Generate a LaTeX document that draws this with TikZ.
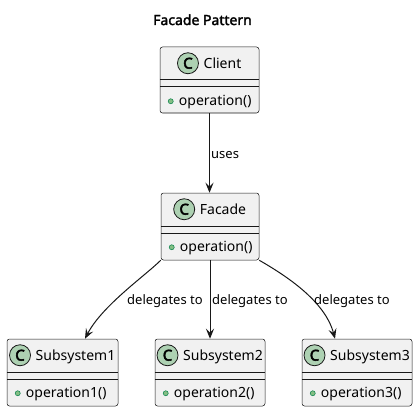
\documentclass[tikz,border=0pt]{standalone}
\usepackage{fontspec}
\setmainfont{Noto Sans}[AutoFakeBold=2.2]
\newfontfamily\iconfont{Noto Sans}[AutoFakeBold=3.5]
\usetikzlibrary{arrows.meta}
\definecolor{boxfill}{HTML}{F1F1F1}
\definecolor{ink}{HTML}{181818}
\definecolor{cgreen}{HTML}{ADD1B2}
\definecolor{mfill}{HTML}{84BE84}
\definecolor{mline}{HTML}{038048}
\tikzset{
 classbox/.style={draw=ink, fill=boxfill, line width=0.5pt, rounded corners=2.5pt, inner sep=0pt},
 sepline/.style={draw=ink, line width=0.5pt},
 nametext/.style={font=\fontsize{14}{16}\selectfont, inner sep=0pt, anchor=base},
 cicon/.style={circle, draw=ink, fill=cgreen, line width=0.8pt, minimum size=21pt, inner sep=0pt, font=\iconfont\fontsize{15}{16}\selectfont\bfseries},
 mtext/.style={font=\fontsize{14}{16}\selectfont, inner sep=0pt, anchor=base west},
 vis/.style={circle, draw=mline, fill=mfill, line width=0.5pt, minimum size=5pt, inner sep=0pt},
 conn/.style={draw=ink, line width=1pt, -{Stealth[length=10pt,width=8pt,inset=4pt]}},
 lbl/.style={font=\fontsize{13}{15}\selectfont, inner sep=0pt, anchor=base west},
 ttl/.style={font=\fontsize{14}{16}\selectfont\bfseries, inner sep=0pt, anchor=base},
}
\newcommand\umlclass[7]{%
 \node[classbox, minimum width=#4pt, minimum height=#5pt] (#1) at (#2,#3) {};
 \draw[sepline] ([yshift=-33pt]#1.north west) -- ([yshift=-33pt]#1.north east);
 \draw[sepline] ([yshift=-40pt]#1.north west) -- ([yshift=-40pt]#1.north east);
 \node[nametext] (#1-name) at ([xshift=13pt,yshift=-21.5pt]#1.north) {#6};
 \coordinate (#1-hc) at ([yshift=-16.5pt]#1.north);
 \path (#1-hc -| #1-name.west) coordinate (#1-hw);
 \node[cicon] (#1-icon) at ([xshift=-15.5pt]#1-hw) {C};
 \node[vis] (#1-vis) at ([xshift=11pt,yshift=-54.5pt]#1.north west) {};
 \node[mtext] (#1-m) at ([xshift=19pt,yshift=-58.3pt]#1.north west) {#7};
}
\begin{document}
\begin{tikzpicture}[x=1pt,y=-1pt]
\useasboundingbox (0,0) rectangle (418,412);
\node[ttl] (title) at (202.5,25) {Facade Pattern};
\umlclass{client}{209.5}{80}{99}{66}{Client}{operation()}
\umlclass{facade}{210}{226.5}{98}{67}{Facade}{operation()}
\umlclass{sub1}{62.5}{372.5}{111}{67}{Subsystem1}{operation1()}
\umlclass{sub2}{210}{372.5}{110}{67}{Subsystem2}{operation2()}
\umlclass{sub3}{357}{372.5}{110}{67}{Subsystem3}{operation3()}
\draw[conn] (client.south) -- (client.south |- facade.north);
\draw[conn] (facade.south) -- (facade.south |- sub2.north);
\draw[conn] (facade.south west) .. controls +(-15,15) and +(17,-33) .. ([xshift=22.5pt]sub1.north);
\draw[conn] (facade.south east) .. controls +(26,15) and +(-10,-38) .. ([xshift=-22pt]sub3.north);
\node[lbl] (l0) at (211,158.5) {uses};
\node[lbl] (l1) at (127,304.5) {delegates to};
\node[lbl] (l2) at (212,304.5) {delegates to};
\node[lbl] (l3) at (314,304.5) {delegates to};
\end{tikzpicture}
\end{document}
